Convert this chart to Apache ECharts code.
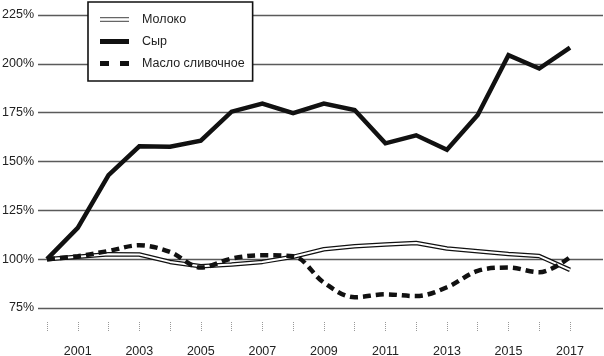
<!DOCTYPE html>
<html>
<head>
<meta charset="utf-8">
<script src="https://cdn.jsdelivr.net/npm/echarts@6/dist/echarts.min.js"></script>
<style>
html,body{margin:0;padding:0;background:#fff;}
#chart{width:604px;height:356px;}
</style>
</head>
<body>
<div id="chart"></div>
<script>
const years = [2000,2001,2002,2003,2004,2005,2006,2007,2008,2009,2010,2011,2012,2013,2014,2015,2016,2017];
const milk   = [100,101.2,102.5,102.4,98.6,96.4,97.3,98.6,101.2,105.1,106.6,107.5,108.3,105.5,104.1,102.6,101.6,94.5];
const cheese = [100,116,143,157.8,157.6,160.7,175.5,179.7,174.8,179.7,176.4,159.3,163.4,156,173.8,204.4,197.6,208.3];
const butter = [100,101.5,104.2,107.1,103.7,95.7,100.3,102,101.5,88,80.5,82,81.1,85.6,94,95.7,93.3,101];
const yTicks = [75,100,125,150,175,200,225];
const names = ['Молоко','Сыр','Масло сливочное'];

const FONT = '"Liberation Sans",Arial,sans-serif';
const FS = 12.5;
const pair = arr => years.map((y,i)=>[y,arr[i]]);

const chart = echarts.init(document.getElementById('chart'), null, {renderer:'canvas'});
chart.setOption({
  animation:false,
  backgroundColor:'#fff',
  legend:{
    orient:'vertical',
    left:88, top:2,
    borderColor:'#111', borderWidth:1.6,
    padding:[10,8,10,12],
    backgroundColor:'#fff',
    itemWidth:29, itemHeight:5, itemGap:7,
    textStyle:{fontFamily:FONT,fontSize:FS,color:'#222',padding:[0,0,0,8],lineHeight:15},
    data:[
      {name:names[0],icon:'path://M0,0H29V1.2H0Z M0,3.8H29V5H0Z',itemStyle:{color:'#666'}},
      {name:names[1],icon:'rect',itemStyle:{color:'#111'}},
      {name:names[2],icon:'path://M0,0H9V5H0Z M20,0H29V5H20Z',itemStyle:{color:'#111'}}
    ]
  },
  grid:[
    {left:38,right:1,top:15,bottom:48,containLabel:false,outerBoundsMode:'none'},
    {left:47,right:34,top:15,bottom:48,containLabel:false,outerBoundsMode:'none'}
  ],
  xAxis:[
    {gridIndex:0,type:'value',min:0,max:1,show:false},
    {gridIndex:1,type:'value',min:2000,max:2017,interval:1,offset:14,
     axisLine:{show:false},
     axisTick:{show:true,length:9,lineStyle:{type:'dotted',color:'#999',width:1}},
     splitLine:{show:false},
     axisLabel:{fontFamily:FONT,fontSize:FS,color:'#222',margin:23,
       formatter:v=> (v%2===1 ? String(v) : '')}
    }
  ],
  yAxis:[
    {gridIndex:0,type:'value',min:yTicks[0],max:yTicks[yTicks.length-1],interval:25,
     axisLine:{show:false},axisTick:{show:false},
     splitLine:{show:true,lineStyle:{color:'#5a5a5a',width:1.3}},
     axisLabel:{fontFamily:FONT,fontSize:FS,color:'#222',margin:4,formatter:'{value}%'}
    },
    {gridIndex:1,type:'value',min:yTicks[0],max:yTicks[yTicks.length-1],interval:25,show:false,
     splitLine:{show:false}}
  ],
  series:[
    {name:names[0],type:'line',xAxisIndex:1,yAxisIndex:1,data:pair(milk),
     showSymbol:false,lineStyle:{color:'#111',width:4.5},itemStyle:{color:'#111'},z:2},
    {name:'milk-inner',type:'line',xAxisIndex:1,yAxisIndex:1,data:pair(milk),
     showSymbol:false,lineStyle:{color:'#fff',width:2},z:3,silent:true},
    {name:names[2],type:'line',xAxisIndex:1,yAxisIndex:1,data:pair(butter),smooth:0.35,
     showSymbol:false,lineStyle:{color:'#111',width:4.5,type:[8,5],cap:'butt'},itemStyle:{color:'#111'},z:4},
    {name:names[1],type:'line',xAxisIndex:1,yAxisIndex:1,data:pair(cheese),
     showSymbol:false,lineStyle:{color:'#111',width:4.5,join:'miter'},itemStyle:{color:'#111'},z:5}
  ]
});
</script>
</body>
</html>
